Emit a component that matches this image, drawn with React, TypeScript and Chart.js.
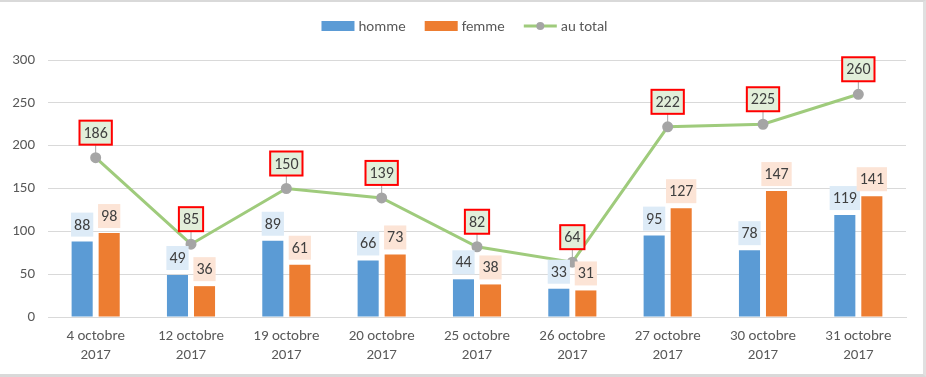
import React, { useEffect, useRef } from 'react';
import { Chart, registerables } from 'chart.js';

Chart.register(...registerables);

const categories: string[][] = [
  ['4 octobre', '2017'],
  ['12 octobre', '2017'],
  ['19 octobre', '2017'],
  ['20 octobre', '2017'],
  ['25 octobre', '2017'],
  ['26 octobre', '2017'],
  ['27 octobre', '2017'],
  ['30 octobre', '2017'],
  ['31 octobre', '2017'],
];
const homme = [88, 49, 89, 66, 44, 33, 95, 78, 119];
const femme = [98, 36, 61, 73, 38, 31, 127, 147, 141];
const total = [186, 85, 150, 139, 82, 64, 222, 225, 260];
const seriesNames = ['homme', 'femme', 'au total'];
const yMin = 0;
const yMax = 300;
const yStep = 50;

const FONT = 'Carlito, Lato, sans-serif';
const BLUE = '#5B9BD5';
const ORANGE = '#ED7D31';
const GREEN = '#9FCB7C';
const GREY_PT = '#A5A5A5';

const labelPlugin = {
  id: 'customLabels',
  afterDatasetsDraw(chart: any) {
    const ctx = chart.ctx as CanvasRenderingContext2D;
    ctx.save();
    ctx.font = `16px ${FONT}`;
    ctx.textAlign = 'center';
    ctx.textBaseline = 'middle';
    const bgs = ['#DDEBF7', '#FCE4D6'];
    [0, 1].forEach((di) => {
      const meta = chart.getDatasetMeta(di);
      meta.data.forEach((bar: any, i: number) => {
        const txt = String(chart.data.datasets[di].data[i]);
        const w = ctx.measureText(txt).width + 6;
        const h = 24;
        const bottom = bar.y - 5;
        ctx.fillStyle = bgs[di];
        ctx.fillRect(bar.x - w / 2, bottom - h, w, h);
        ctx.fillStyle = '#404040';
        ctx.fillText(txt, bar.x, bottom - h / 2 + 1);
      });
    });
    const meta = chart.getDatasetMeta(2);
    meta.data.forEach((pt: any, i: number) => {
      const txt = String(chart.data.datasets[2].data[i]);
      const w = ctx.measureText(txt).width + 8;
      const h = 24;
      const bottom = pt.y - 13;
      ctx.strokeStyle = '#A6A6A6';
      ctx.lineWidth = 1;
      ctx.beginPath();
      ctx.moveTo(pt.x, bottom);
      ctx.lineTo(pt.x, pt.y - 3);
      ctx.stroke();
      ctx.fillStyle = '#E2EFDA';
      ctx.fillRect(pt.x - w / 2, bottom - h, w, h);
      ctx.strokeStyle = '#FF0000';
      ctx.lineWidth = 2;
      ctx.strokeRect(pt.x - w / 2, bottom - h, w, h);
      ctx.fillStyle = '#404040';
      ctx.fillText(txt, pt.x, bottom - h / 2 + 1);
    });
    ctx.restore();
  },
  afterDraw(chart: any) {
    const ctx = chart.ctx as CanvasRenderingContext2D;
    ctx.save();
    ctx.font = `15px ${FONT}`;
    ctx.textBaseline = 'middle';
    ctx.textAlign = 'left';
    const boxW = 33;
    const gapText = 4;
    const gapItem = 19;
    const widths = seriesNames.map((n) => boxW + gapText + ctx.measureText(n).width);
    const totalW = widths.reduce((a, b) => a + b, 0) + gapItem * (seriesNames.length - 1);
    let x = chart.width / 2 + 3 - totalW / 2;
    const cy = 24;
    seriesNames.forEach((name, i) => {
      if (i < 2) {
        ctx.fillStyle = i === 0 ? BLUE : ORANGE;
        ctx.fillRect(x, cy - 5, boxW, 10);
      } else {
        ctx.strokeStyle = GREEN;
        ctx.lineWidth = 3;
        ctx.beginPath();
        ctx.moveTo(x, cy);
        ctx.lineTo(x + boxW, cy);
        ctx.stroke();
        ctx.fillStyle = GREY_PT;
        ctx.beginPath();
        ctx.arc(x + boxW / 2, cy, 4, 0, Math.PI * 2);
        ctx.fill();
      }
      ctx.fillStyle = '#595959';
      ctx.fillText(name, x + boxW + gapText, cy + 1);
      x += widths[i] + gapItem;
    });
    ctx.restore();
  },
};

export default function App() {
  const ref = useRef<HTMLCanvasElement | null>(null);
  useEffect(() => {
    if (!ref.current) return;
    const chart = new Chart(ref.current, {
      type: 'bar',
      data: {
        labels: categories,
        datasets: [
          {
            type: 'bar',
            label: seriesNames[0],
            data: homme,
            backgroundColor: BLUE,
            categoryPercentage: 0.567,
            barPercentage: 0.78,
            order: 2,
          },
          {
            type: 'bar',
            label: seriesNames[1],
            data: femme,
            backgroundColor: ORANGE,
            categoryPercentage: 0.567,
            barPercentage: 0.78,
            order: 2,
          },
          {
            type: 'line',
            label: seriesNames[2],
            data: total,
            borderColor: GREEN,
            borderWidth: 3,
            backgroundColor: GREY_PT,
            pointBackgroundColor: GREY_PT,
            pointBorderColor: GREY_PT,
            pointRadius: 4,
            tension: 0,
            order: 1,
          } as any,
        ],
      },
      options: {
        responsive: false,
        animation: false,
        layout: { padding: { top: 58, right: 17, left: 0, bottom: 0 } },
        plugins: {
          legend: { display: false },
          tooltip: { enabled: false },
        },
        scales: {
          x: {
            grid: { display: false, drawTicks: false },
            border: { display: true, color: '#D9D9D9' },
            ticks: {
              color: '#595959',
              font: { family: FONT, size: 15, lineHeight: 1.27 },
              padding: 10,
              maxRotation: 0,
              autoSkip: false,
            },
            afterFit: (s: any) => {
              s.height = 57;
            },
          },
          y: {
            min: yMin,
            max: yMax,
            grid: { color: '#D9D9D9', drawTicks: false },
            border: { display: false },
            ticks: {
              stepSize: yStep,
              color: '#595959',
              font: { family: FONT, size: 15 },
              padding: 13,
            },
            afterFit: (s: any) => {
              s.width = 48;
            },
          },
        },
      },
      plugins: [labelPlugin],
    });
    return () => chart.destroy();
  }, []);
  return (
    <div
      style={{
        position: 'fixed',
        left: 0,
        top: 0,
        width: 926,
        height: 377,
        boxSizing: 'border-box',
        borderTop: '2px solid #D9D9D9',
        borderRight: '3px solid #E0E0E0',
        borderBottom: '3px solid #D9D9D9',
        background: '#FFFFFF',
      }}
    >
      <canvas ref={ref} width={923} height={372} style={{ display: 'block' }} />
    </div>
  );
}
